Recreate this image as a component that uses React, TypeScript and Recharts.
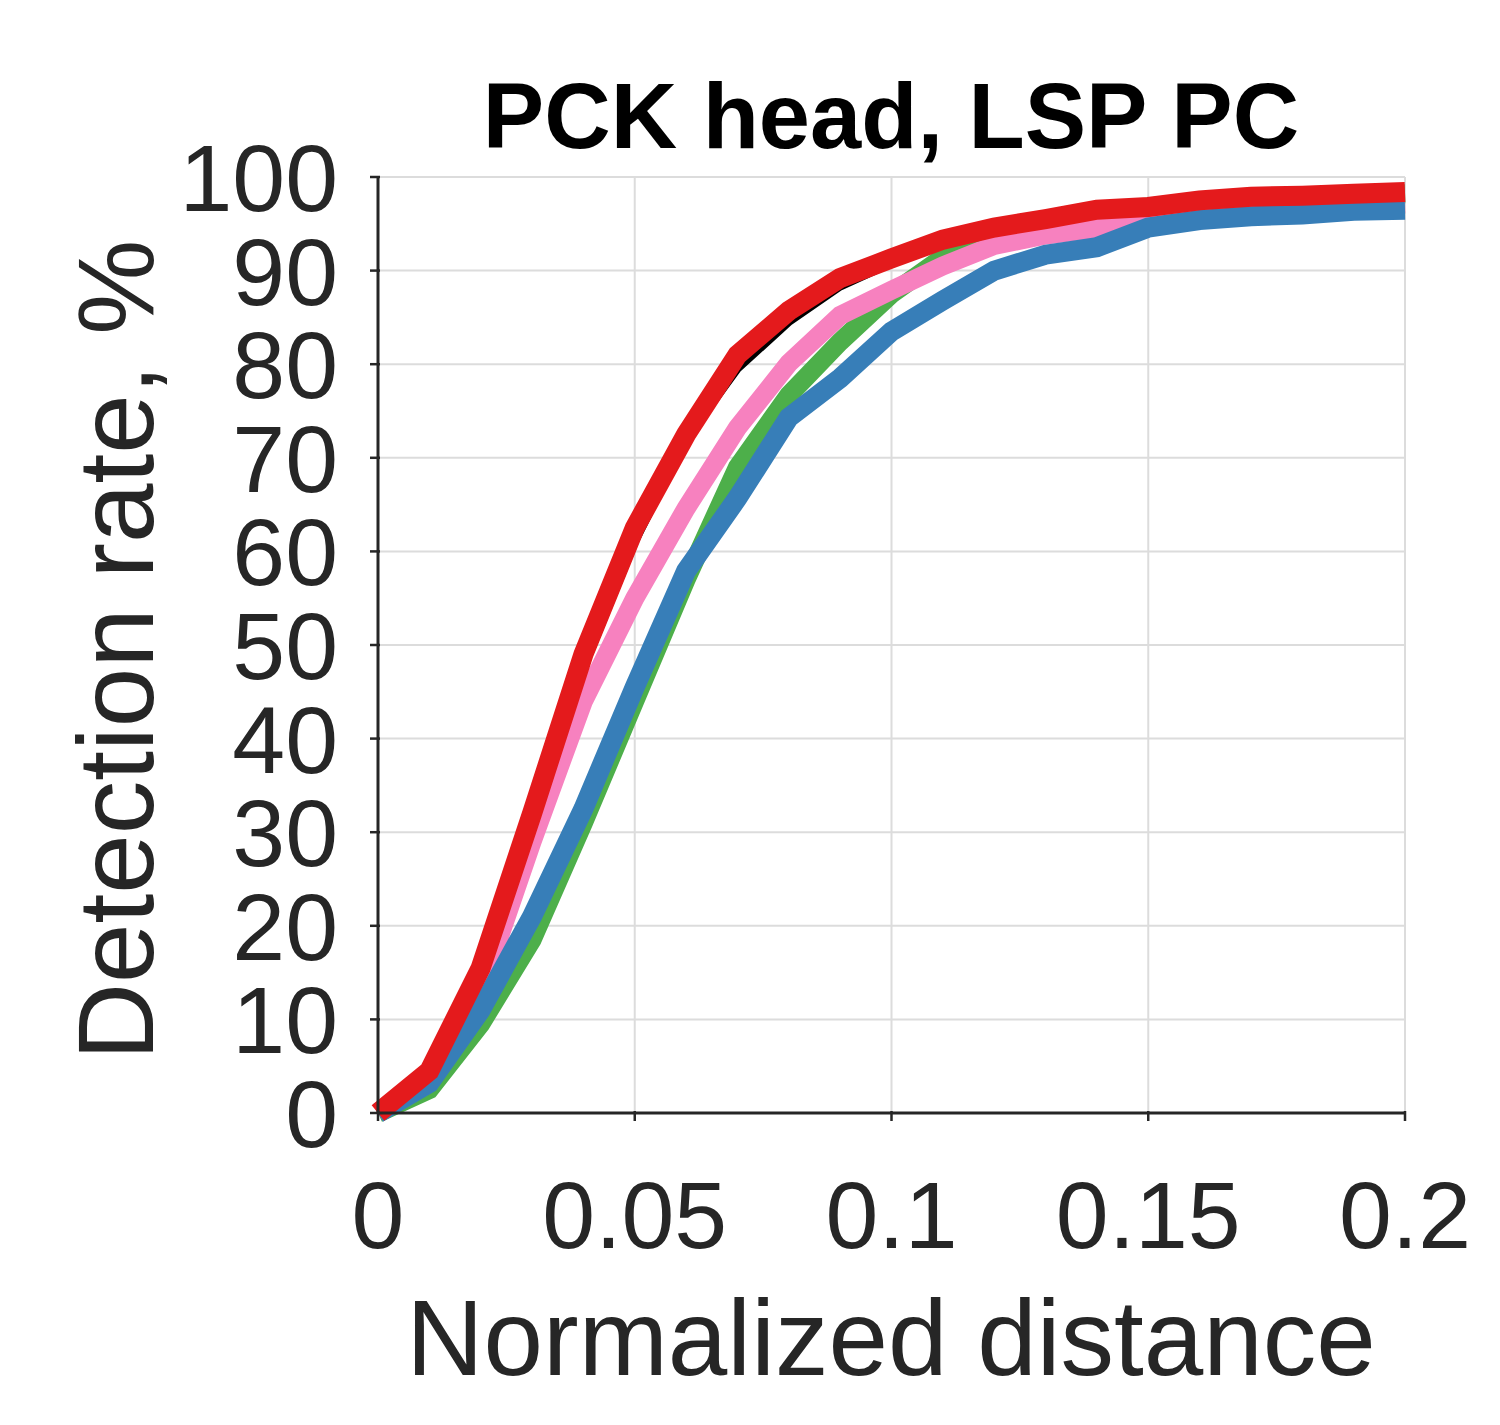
import { LineChart, Line, XAxis, YAxis, CartesianGrid, Text } from 'recharts';

const distances = [0, 0.01, 0.02, 0.03, 0.04, 0.05, 0.06, 0.07, 0.08, 0.09, 0.1, 0.11, 0.12, 0.13, 0.14, 0.15, 0.16, 0.17, 0.18, 0.19, 0.2];

const green = [0, 2.5, 9.5, 18.5, 31, 44, 57, 69, 76.7, 82.4, 87.5, 91.4, 93.8, 95.2, 96.2, 96.8, 97.3, 97.6, 97.8, 98, 98.2];
const black = [0, 4, 15, 31, 47.5, 61, 72, 79.5, 84.5, 88.3, 90.8, 92.8, 94.3, 95, 95.5, 95.8, 96, 96.2, 96.3, 96.4, 96.5];
const pink = [0, 3.5, 13, 29, 44, 55, 64.6, 73.2, 80.1, 85.2, 87.9, 90.5, 92.7, 93.8, 94.5, 95, 96, 96.4, 96.7, 97, 97.2];
const blue = [0, 3.2, 11, 21, 32.5, 45.5, 57.9, 65.7, 74.3, 78.5, 83.5, 86.8, 90, 91.7, 92.5, 94.6, 95.4, 95.8, 96, 96.4, 96.5];
const red = [0, 4.5, 15.5, 32, 49, 62.5, 72.5, 81, 85.7, 89.2, 91.3, 93.3, 94.6, 95.5, 96.5, 96.8, 97.5, 97.9, 98, 98.2, 98.4];

const xTicks = [0, 0.05, 0.1, 0.15, 0.2];
const xTickLabels = ['0', '0.05', '0.1', '0.15', '0.2'];
const yTicks = [0, 10, 20, 30, 40, 50, 60, 70, 80, 90, 100];

const rows = distances.map((d, i) => ({
  d,
  green: green[i],
  black: black[i],
  pink: pink[i],
  blue: blue[i],
  red: red[i],
}));

const FONT = '"Liberation Sans", Arial, sans-serif';
const INK = '#262626';

const XTick = (props: any) => {
  const { x, y, payload, index } = props;
  return (
    <g>
      <line x1={x} x2={x} y1={y} y2={y - 10} stroke={INK} strokeWidth={2.5} />
      <text x={x} y={y + 127} textAnchor="middle" fontSize={95} fill={INK} fontFamily={FONT}>
        {xTickLabels[index] ?? String(payload.value)}
      </text>
    </g>
  );
};

const YTick = (props: any) => {
  const { x, y, payload } = props;
  return (
    <g>
      <line x1={x} x2={x + 10} y1={y} y2={y} stroke={INK} strokeWidth={2.5} />
      <text x={x - 32} y={y + 34} textAnchor="end" fontSize={95} fill={INK} fontFamily={FONT}>
        {payload.value}
      </text>
    </g>
  );
};

export default function App() {
  return (
    <div style={{ position: 'relative', width: 1492, height: 1417 }}>
      <LineChart
        width={1492}
        height={1417}
        data={rows}
        margin={{ top: 169, left: 0, right: 95, bottom: 0 }}
      >
        <CartesianGrid stroke="#dcdcdc" strokeWidth={2} />
        <XAxis
          dataKey="d"
          type="number"
          domain={[0, 0.2]}
          ticks={xTicks}
          interval={0}
          tick={<XTick />}
          tickLine={false}
          axisLine={{ stroke: INK, strokeWidth: 3 }}
          height={312}
        />
        <YAxis
          type="number"
          domain={[0, 100]}
          ticks={yTicks}
          interval={0}
          tick={<YTick />}
          tickLine={false}
          axisLine={{ stroke: INK, strokeWidth: 3 }}
          width={370}
        />
        <Line dataKey="green" type="linear" stroke="#4daf4a" strokeWidth={19} dot={false} isAnimationActive={false} />
        <Line dataKey="black" type="linear" stroke="#000000" strokeWidth={8} dot={false} isAnimationActive={false} />
        <Line dataKey="pink" type="linear" stroke="#f781bf" strokeWidth={19} dot={false} isAnimationActive={false} />
        <Line dataKey="blue" type="linear" stroke="#377eb8" strokeWidth={20} dot={false} isAnimationActive={false} />
        <Line dataKey="red" type="linear" stroke="#e41a1c" strokeWidth={20} dot={false} isAnimationActive={false} />
        <Text x={883} y={140} textAnchor="middle" fontSize={92} fontWeight="bold" fill="#000" fontFamily={FONT}>
          PCK head, LSP PC
        </Text>
        <Text x={883} y={1367} textAnchor="middle" fontSize={107} fill={INK} fontFamily={FONT}>
          Normalized distance
        </Text>
        <Text
          x={145}
          y={642}
          textAnchor="middle"
          fontSize={107}
          fill={INK}
          fontFamily={FONT}
          angle={-90}
          verticalAnchor="end"
        >
          Detection rate,  %
        </Text>
      </LineChart>
    </div>
  );
}
